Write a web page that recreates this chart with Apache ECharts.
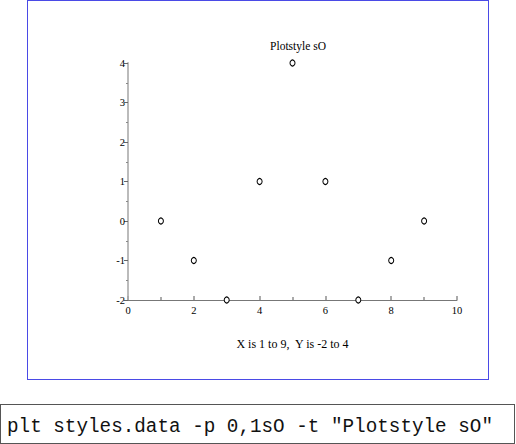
<!DOCTYPE html>
<html>
<head>
<meta charset="utf-8">
<script src="https://cdn.jsdelivr.net/npm/echarts@6/dist/echarts.min.js"></script>
<style>
  body { margin: 0; background: #fff; }
  #frame { position: absolute; left: 27px; top: 0; width: 460px; height: 378px; border: 1px solid #4a4ae6; }
  #chart { position: absolute; left: 0; top: 0; width: 516px; height: 444px; }
  #cmd { position: absolute; left: 0; top: 404px; width: 515px; height: 40px; border: 1px solid #555;
         font-family: "Liberation Mono", "DejaVu Sans Mono", monospace; font-size: 19.3px; line-height: 44px;
         padding-left: 6px; box-sizing: border-box; white-space: pre; color: #111; overflow: hidden; }
</style>
</head>
<body>
<div id="frame"></div>
<div id="chart"></div>
<div id="cmd">plt styles.data -p 0,1sO -t "Plotstyle sO"</div>
<script>
// data
const xValues = [1, 2, 3, 4, 5, 6, 7, 8, 9];
const yValues = [0, -1, -2, 1, 4, 1, -2, -1, 0];
const titleText = "Plotstyle sO";
const xLabel = "X is 1 to 9,  Y is -2 to 4";

const serif = "Liberation Serif";
const chart = echarts.init(document.getElementById("chart"), null, { renderer: "svg" });

const option = {
  animation: false,
  title: {
    text: titleText,
    left: 293,
    top: 35,
    textAlign: "center",
    textStyle: { fontFamily: serif, fontSize: 11.5, fontWeight: "normal", color: "#000" },
  },
  grid: { left: 128, right: 59, top: 63, bottom: 144 },
  xAxis: {
    type: "value",
    min: 0,
    max: 10,
    interval: 2,
    name: xLabel,
    nameLocation: "middle",
    nameGap: 38,
    nameTextStyle: { fontFamily: serif, fontSize: 12, color: "#000" },
    axisLine: { onZero: false, lineStyle: { color: "#777", width: 1 } },
    axisTick: { inside: true, length: 4, lineStyle: { color: "#aaa", width: 2 } },
    minorTick: { show: true, splitNumber: 2, length: 3, lineStyle: { color: "#aaa", width: 2 } },
    axisLabel: { fontFamily: serif, fontSize: 10.5, color: "#000", margin: 5 },
    splitLine: { show: false },
  },
  yAxis: {
    type: "value",
    min: -2,
    max: 4,
    interval: 1,
    axisLine: { onZero: false, lineStyle: { color: "#bbb", width: 2 } },
    axisTick: { length: 4, lineStyle: { color: "#666", width: 1 } },
    minorTick: { show: true, splitNumber: 2, length: 2, lineStyle: { color: "#888", width: 1 } },
    axisLabel: { fontFamily: serif, fontSize: 10.5, color: "#000", margin: 3 },
    splitLine: { show: false },
  },
  series: [
    {
      type: "scatter",
      data: xValues.map((x, i) => [x, yValues[i]]),
      symbol: "circle",
      symbolSize: [5, 6],
      itemStyle: { color: "#fff", borderColor: "#000", borderWidth: 1.1, opacity: 1 },
      z: 1,
    },
  ],
};

chart.setOption(option);
</script>
</body>
</html>
